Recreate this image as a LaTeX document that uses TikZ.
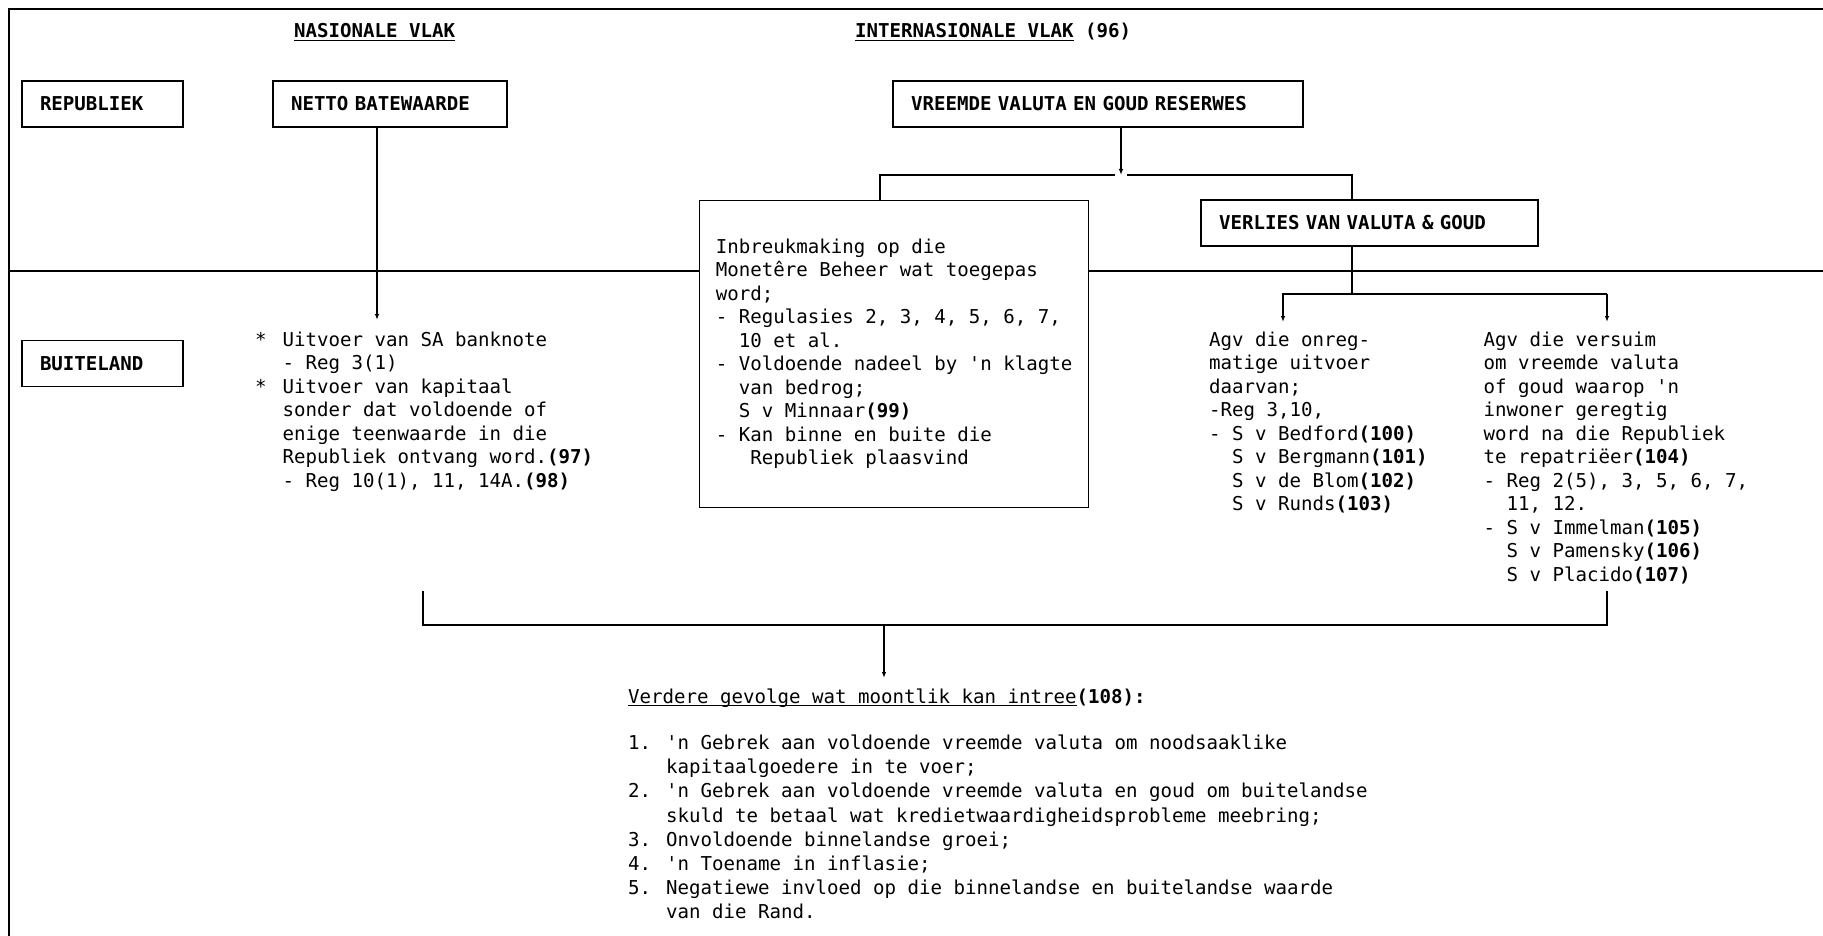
\documentclass[tikz,border=0pt]{standalone}
\usepackage{fontspec}
\setmonofont{DejaVu Sans Mono}
\usetikzlibrary{arrows.meta,calc}
\newcommand\myul[1]{\setbox0\hbox{#1}\rlap{\rule[-3.2pt]{\wd0}{1.3pt}}\box0\relax}
\tikzset{
  conn/.style={line width=1.3pt},
  arr/.style={conn,-{Latex[length=6pt,width=4.5pt]}},
  txt/.style={font=\ttfamily\fontsize{19.1}{23.5}\selectfont, inner sep=0pt, align=left, anchor=north west},
  lbl/.style={font=\ttfamily\fontsize{19.1}{23.5}\selectfont, inner sep=0pt, anchor=base west},
  hbox/.style={draw, line width=1.3pt, font=\ttfamily\bfseries\fontsize{19.1}{23.5}\selectfont,
     inner xsep=18pt, inner ysep=0pt, text width=#1, align=left, minimum height=46pt},
}
\begin{document}
\begin{tikzpicture}[x=1pt,y=-1pt]
\useasboundingbox (0,0) rectangle (1823,936);
% frame and divider
\draw[line width=1.6pt] (1823,9) -- (9,9) -- (9,936);
\draw[conn] (9,271) -- (1823,271);

% headings
\node[lbl, font=\ttfamily\bfseries\fontsize{19.1}{23.5}\selectfont] (nas) at (294,38) {\myul{NASIONALE VLAK}};
\node[lbl, font=\ttfamily\bfseries\fontsize{19.1}{23.5}\selectfont] (int) at (855,38) {\myul{INTERNASIONALE VLAK} (96)};

% boxes
\node[hbox=125pt] (rep) at (102.5,104) {REPUBLIEK};
\node[hbox=198pt] (netto) at (390,104) {NETTO BATEWAARDE};
\node[hbox=374pt] (vreemde) at (1098,104) {VREEMDE VALUTA EN GOUD RESERWES};
\node[hbox=125pt] (buit) at (102.5,363.5) {BUITELAND};
\node[hbox=301pt] (verlies) at (1369.5,223) {VERLIES VAN VALUTA \& GOUD};

\node[txt, draw, line width=1.3pt, fill=white, minimum width=389pt, minimum height=307pt] (inb) at (699,200)
{\strut Inbreukmaking op die\\
\strut Monetêre Beheer wat toegepas\\
\strut word;\\
\strut- Regulasies 2, 3, 4, 5, 6, 7,\\
\strut\hspace*{23pt}10 et al.\\
\strut- Voldoende nadeel by 'n klagte\\
\strut\hspace*{23pt}van bedrog;\\
\strut\hspace*{23pt}S v Minnaar\textbf{(99)}\\
\strut- Kan binne en buite die\\
\strut\hspace*{34.5pt}Republiek plaasvind};

% text blocks
\node[txt] (natxt) at (282.5,329.75)
{\strut\llap{*\hspace{16pt}}Uitvoer van SA banknote\\
\strut- Reg 3(1)\\
\strut\llap{*\hspace{16pt}}Uitvoer van kapitaal\\
\strut sonder dat voldoende of\\
\strut enige teenwaarde in die\\
\strut Republiek ontvang word.\textbf{(97)}\\
\strut- Reg 10(1), 11, 14A.\textbf{(98)}};

\node[txt] (agv1) at (1209,329.75)
{\strut Agv die onreg-\\
\strut matige uitvoer\\
\strut daarvan;\\
\strut-Reg 3,10,\\
\strut- S v Bedford\textbf{(100)}\\
\strut\hspace*{23pt}S v Bergmann\textbf{(101)}\\
\strut\hspace*{23pt}S v de Blom\textbf{(102)}\\
\strut\hspace*{23pt}S v Runds\textbf{(103)}};

\node[txt] (agv2) at (1483.5,329.75)
{\strut Agv die versuim\\
\strut om vreemde valuta\\
\strut of goud waarop 'n\\
\strut inwoner geregtig\\
\strut word na die Republiek\\
\strut te repatriëer\textbf{(104)}\\
\strut- Reg 2(5), 3, 5, 6, 7,\\
\strut\hspace*{23pt}11, 12.\\
\strut- S v Immelman\textbf{(105)}\\
\strut\hspace*{23pt}S v Pamensky\textbf{(106)}\\
\strut\hspace*{23pt}S v Placido\textbf{(107)}};

\node[lbl] (ver) at (628,703.2) {\myul{Verdere gevolge wat moontlik kan intree}\textbf{(108):}};

\node[txt, font=\ttfamily\fontsize{19.1}{24.2}\selectfont] (lst) at (628,732.3)
{\strut\makebox[38pt][l]{1.}'n Gebrek aan voldoende vreemde valuta om noodsaaklike\\
\strut\hspace*{38pt}kapitaalgoedere in te voer;\\
\strut\makebox[38pt][l]{2.}'n Gebrek aan voldoende vreemde valuta en goud om buitelandse\\
\strut\hspace*{38pt}skuld te betaal wat kredietwaardigheidsprobleme meebring;\\
\strut\makebox[38pt][l]{3.}Onvoldoende binnelandse groei;\\
\strut\makebox[38pt][l]{4.}'n Toename in inflasie;\\
\strut\makebox[38pt][l]{5.}Negatiewe invloed op die binnelandse en buitelandse waarde\\
\strut\hspace*{38pt}van die Rand.};

% connectors
\coordinate (nc) at (377,320);
\draw[arr] (netto.south -| nc) -- (nc);

\coordinate (j1) at (1121,175);
\coordinate (jl) at (880,175);
\coordinate (jr) at (1352,175);
\draw[arr] (vreemde.south -| j1) -- (j1);
\draw[conn] (inb.north -| jl) -- (jl) -- ($(j1)+(-6,0)$);
\draw[conn] ($(j1)+(6,0)$) -- (jr) -- (verlies.north -| jr);

\coordinate (k) at (1352,294);
\coordinate (kl) at (1283,294);
\coordinate (kr) at (1607,294);
\coordinate (a1) at (1283,322);
\coordinate (a2) at (1607,322);
\draw[conn] (verlies.south -| k) -- (k);
\draw[arr] (kr) -- (kl) -- (a1);
\draw[arr] (kr) -- (a2);

\coordinate (b1) at (423,591);
\coordinate (b2) at (423,625);
\coordinate (b3) at (1607,625);
\coordinate (b4) at (1607,591);
\coordinate (bc) at (884,625);
\coordinate (bt) at (884,678);
\draw[conn] (b1) -- (b2) -- (b3) -- (b4);
\draw[arr] (bc) -- (bt);
\end{tikzpicture}
\end{document}
